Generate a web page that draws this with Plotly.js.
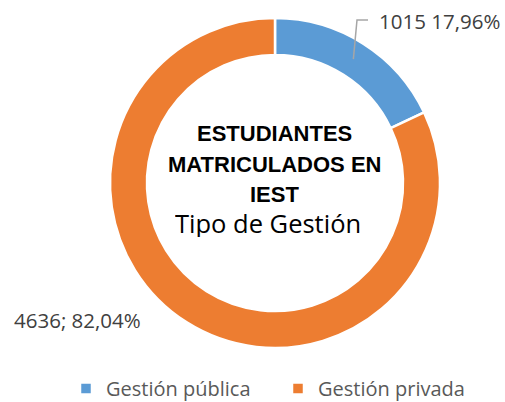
<!DOCTYPE html>
<html>
<head>
<meta charset="utf-8">
<script src="https://cdn.plot.ly/plotly-3.0.1.min.js"></script>
<style>html,body{margin:0;padding:0;background:#fff;}#chart{width:505px;height:402px;}</style>
</head>
<body>
<div id="chart"></div>
<script>
const categories = ['Gestión pública', 'Gestión privada'];
const values = [1015, 4636];
const colors = ['#5B9BD5', '#ED7D31'];
const titleLines = ['ESTUDIANTES', 'MATRICULADOS EN', 'IEST'];
const subtitle = 'Tipo de Gestión';

const W = 505, H = 402;
const px = x => x / W;
const py = y => 1 - y / H;
const total = values.reduce((a, b) => a + b, 0);
const pct = v => (v / total * 100).toFixed(2).replace('.', ',') + '%';

// pie geometry (pixels)
const cx = 275, cy = 183, R = 165, hole = 0.776;

// leader line for first slice, starting at mid angle of the slice
const midAng = (values[0] / total) * Math.PI; // clockwise from top
const rMid = R * (1 + hole) / 2;
const sx = cx + rMid * Math.sin(midAng), sy = cy - rMid * Math.cos(midAng);

const trace = {
  type: 'pie',
  labels: categories,
  values: values,
  marker: {colors: colors, line: {color: '#ffffff', width: 2.5}},
  hole: hole,
  sort: false,
  direction: 'clockwise',
  rotation: 0,
  textinfo: 'none',
  hoverinfo: 'none',
  domain: {x: [px(cx - R), px(cx + R)], y: [py(cy + R), py(cy - R)]}
};

const lblFont = {family: 'Open Sans', size: 20.5, color: '#404040'};
const annotations = [
  {text: values[0] + ' ' + pct(values[0]), x: px(377), y: py(21), xanchor: 'left', yanchor: 'middle', showarrow: false, font: lblFont, xref: 'paper', yref: 'paper'},
  {text: values[1] + '; ' + pct(values[1]), x: px(12), y: py(320), xanchor: 'left', yanchor: 'middle', showarrow: false, font: lblFont, xref: 'paper', yref: 'paper'}
];
const lineY = [133, 164.5, 194.5];
titleLines.forEach((t, i) => {
  annotations.push({text: t, x: px(274.5), y: py(lineY[i]), xanchor: 'center', yanchor: 'middle', showarrow: false,
    height: 26, borderpad: 0,
    font: {family: 'Liberation Sans', size: 22, color: '#000000', weight: 'bold'}, xref: 'paper', yref: 'paper'});
});
annotations.push({text: subtitle, x: px(268), y: py(223), xanchor: 'center', yanchor: 'middle', showarrow: false,
  height: 28, borderpad: 0,
  font: {family: 'Open Sans', size: 25.5, color: '#000000'}, xref: 'paper', yref: 'paper'});

const layout = {
  width: W, height: H,
  margin: {l: 0, r: 0, t: 0, b: 0, autoexpand: false},
  paper_bgcolor: '#ffffff',
  showlegend: true,
  legend: {orientation: 'h', x: px(66), xanchor: 'left', y: py(388.5), yanchor: 'middle',
    entrywidth: 167, entrywidthmode: 'pixels',
    font: {family: 'Open Sans', size: 20, color: '#595959'}, traceorder: 'normal'},
  annotations: annotations,
  shapes: [{type: 'path', xref: 'paper', yref: 'paper',
    path: `M${px(sx)},${py(sy)} L${px(357)},${py(20)} L${px(368)},${py(20)}`,
    line: {color: '#A6A6A6', width: 1.5}}]
};

Plotly.newPlot('chart', [trace], layout, {displayModeBar: false, staticPlot: true});
</script>
</body>
</html>
